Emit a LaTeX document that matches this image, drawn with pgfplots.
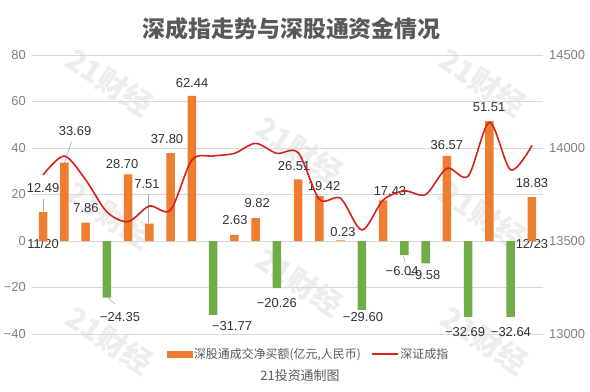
\documentclass[border=0pt]{standalone}
\usepackage{fontspec}
\setmainfont{Liberation Sans}
\newfontfamily\cjk{Noto Sans CJK SC}
\usepackage{pgfplots}
\usepackage{pgfplotstable}
\pgfplotsset{compat=1.18}
\definecolor{barpos}{HTML}{ED7D31}
\definecolor{barneg}{HTML}{70AD47}
\definecolor{linered}{HTML}{D9201C}
\definecolor{txt}{HTML}{333333}
\definecolor{txttwo}{HTML}{595959}
\definecolor{ticktxt}{HTML}{808080}
\definecolor{gridc}{HTML}{D9D9D9}
\definecolor{leader}{HTML}{A6A6A6}
\definecolor{wm}{HTML}{EDEDED}

\pgfplotstableread{
x y
0 12.49
1 33.69
2 7.86
4 28.70
5 7.51
6 37.80
7 62.44
9 2.63
10 9.82
12 26.51
13 19.42
14 0.23
16 17.43
19 36.57
21 51.51
23 18.83
}\posbars

\pgfplotstableread{
x y
3 -24.35
8 -31.77
11 -20.26
15 -29.60
17 -6.04
18 -9.58
20 -32.69
22 -32.64
}\negbars

\pgfplotstableread{
x y lab
0 22.8 12.49
1.505 47.3 33.69
2.02 14.2 7.86
3.62 -32.6 −24.35
3.72 33.1 28.70
4.89 24.5 7.51
5.83 44.0 37.80
7.01 67.8 62.44
8.89 -36.6 −31.77
9.03 9.0 2.63
10.07 16.3 9.82
11.0 -26.5 −20.26
11.81 32.3 26.51
13.22 23.7 19.42
14.11 3.9 0.23
15.05 -32.7 −29.60
16.32 21.6 17.43
16.89 -12.8 −6.04
17.92 -14.6 −9.58
19.0 41.3 36.57
19.85 -39.1 −32.69
20.98 57.8 51.51
22.01 -39.1 −32.64
23.0 24.9 18.83
}\labels

\pgfplotstableread{
x y
0 13855
1 13957
2 13830
3 13657
4 13604
5 13688
6 13667
7 13935
8 13957
9 13971
10 14025
11 13971
12 13975
13 13724
14 13729
15 13559
16 13720
17 13769
18 13750
19 13891
20 13849
21 14138
22 13882
23 14014
}\szindex

\begin{document}
\begin{tikzpicture}
\useasboundingbox (0,0) rectangle (590bp,392bp);
% faint watermarks
\foreach \wx/\wy in {110/82, 110/215, 110/340, 300/150, 300/282, 483/82, 483/215, 485/340}{
  \node[font=\cjk\bfseries\fontsize{30}{32}\selectfont, text=wm, rotate=-33] at (\wx bp, 392bp-\wy bp) {21财经};
}
\begin{axis}[
  at={(32.4bp,58bp)}, anchor=south west,
  scale only axis, width=510.2bp, height=279bp,
  xmin=-0.5, xmax=23.5, ymin=-40, ymax=80,
  clip=false,
  axis x line*=middle,
  axis y line*=left,
  axis line style={draw=none},
  tick style={draw=none},
  ytick={-40,-20,0,20,40,60,80},
  yticklabels={−40,−20,0,20,40,60,80},
  xtick={0,23}, xticklabels={11/20,12/23},
  ymajorgrids, grid style={gridc, line width=0.8bp},
  tick label style={font=\fontsize{13}{15}\selectfont, text=ticktxt},
  yticklabel style={xshift=-3bp},
  xticklabel style={text=txt, yshift=5bp},
]
\addplot[ybar, bar width=8.5bp, bar shift=0pt, fill=barpos, draw=none] table {\posbars};
\addplot[ybar, bar width=8.5bp, bar shift=0pt, fill=barneg, draw=none] table {\negbars};
\addplot[leader, line width=0.6bp] coordinates {(0,12.9) (0,18.1)};
\addplot[leader, line width=0.6bp] coordinates {(1.01,33.9) (1.34,42.6)};
\addplot[leader, line width=0.6bp] coordinates {(4.96,7.7) (4.96,20.2)};
\addplot[leader, line width=0.6bp] coordinates {(3.07,-24.6) (3.39,-27.1)};
\addplot[leader, line width=0.6bp] coordinates {(16.95,-6.4) (17.03,-8.8)};
\addplot[only marks, mark=none, draw=none, point meta=explicit symbolic,
  nodes near coords,
  nodes near coords style={anchor=center, inner sep=0pt, font=\fontsize{13}{15}\selectfont, text=txt}]
  table[meta=lab] {\labels};
\end{axis}
\begin{axis}[
  at={(32.4bp,58bp)}, anchor=south west,
  scale only axis, width=510.2bp, height=279bp,
  xmin=-0.5, xmax=23.5, ymin=13000, ymax=14500,
  clip=false,
  axis y line*=right,
  axis x line=none,
  axis line style={draw=none},
  tick style={draw=none},
  scaled y ticks=false,
  ytick={13000,13500,14000,14500},
  yticklabels={13000,13500,14000,14500},
  tick label style={font=\fontsize{13}{15}\selectfont, text=ticktxt},
  yticklabel style={xshift=3bp},
  legend columns=2,
  legend style={draw=none, fill=none, at={(0.541,-0.0717)}, anchor=center,
    font=\cjk\fontsize{12}{14}\selectfont, text=txttwo,
    /tikz/every even column/.append style={column sep=8bp}},
]
\addlegendimage{legend image code/.code={\fill[barpos] (0bp,-3.3bp) rectangle (25bp,3.3bp);}}
\addlegendentry{深股通成交净买额(亿元,人民币)}
\addplot[linered, line width=1.6bp, smooth, tension=0.5, mark=none,
  legend image code/.code={\draw[linered, line width=1.6bp] (0bp,0bp) -- (26bp,0bp);}]
  table {\szindex};
\addlegendentry{深证成指}
\end{axis}
\node[font=\cjk\bfseries\fontsize{23}{27}\selectfont, text=txttwo] at (291.7bp,363.2bp) {深成指走势与深股通资金情况};
\node[font=\cjk\fontsize{13}{15}\selectfont, text=txttwo] at (300bp,16bp) {21投资通制图};
\end{tikzpicture}
\end{document}
